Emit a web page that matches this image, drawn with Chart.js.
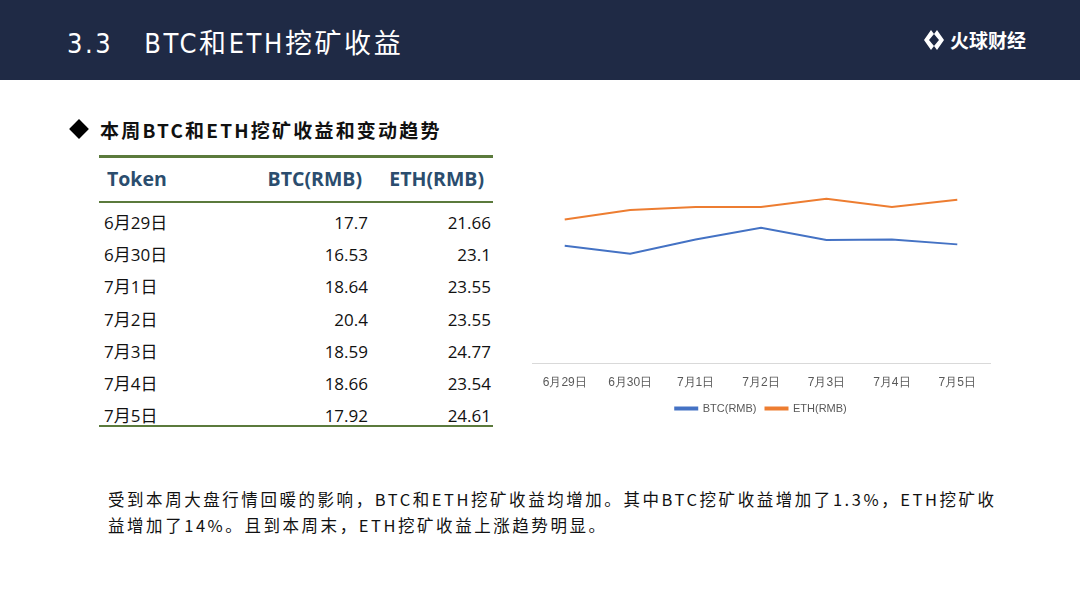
<!DOCTYPE html>
<html><head><meta charset="utf-8">
<script src="https://cdn.jsdelivr.net/npm/chart.js@4"></script>
<style>
html,body{margin:0;padding:0;background:#fff;}
body{width:1080px;height:608px;position:relative;overflow:hidden;font-family:"Noto Sans CJK SC","Noto Sans",sans-serif;}
#hdr{position:absolute;left:0;top:0;width:1080px;height:80px;background:#1f2a45;}
#title{position:absolute;left:67px;top:22px;color:#fff;font-size:27px;letter-spacing:2.6px;font-family:"DejaVu Sans Condensed","Noto Sans CJK SC",sans-serif;}
#logo{position:absolute;left:922px;top:26px;color:#fff;font-size:19px;font-weight:bold;display:flex;align-items:center;}
#sub{position:absolute;left:68px;top:116px;font-size:19px;font-weight:bold;color:#111;letter-spacing:2.2px;}
#sub span.d{display:inline-block;width:14px;height:14px;background:#000;transform:rotate(45deg);margin:0 14px 2px 4px;}
.line{position:absolute;left:99px;width:394px;background:#5b7a3c;}
.cell{position:absolute;font-size:17px;color:#111;font-family:"Open Sans","Noto Sans CJK SC",sans-serif;line-height:20px;}
.hd{font-weight:bold;color:#2b4d6e;font-size:19.5px;}
#body{position:absolute;left:108px;top:486px;font-size:16.5px;line-height:26px;color:#111;letter-spacing:2.55px;white-space:nowrap;}
#wrap{position:absolute;left:520px;top:150px;width:480px;height:278px;}
</style></head><body>
<div id="hdr"></div>
<div id="title">3.3&nbsp;&nbsp; BTC和ETH挖矿收益</div>
<div id="logo"><svg width="24" height="24" viewBox="0 0 24 24" style="margin-right:4px"><path d="M9 2 L2 12 L9 22 L12 18 L7 12 L12 6 Z" fill="#fff"/><path d="M15 2 L22 12 L15 22 L12 18 L17 12 L12 6 Z" fill="#fff"/></svg>火球财经</div>
<div id="sub"><span class="d"></span>本周BTC和ETH挖矿收益和变动趋势</div>
<div class="line" style="top:155px;height:3px"></div>
<div class="line" style="top:201px;height:2px"></div>
<div class="line" style="top:425px;height:2px"></div>
<div id="cells"></div>
<div id="body">受到本周大盘行情回暖的影响，BTC和ETH挖矿收益均增加。其中BTC挖矿收益增加了1.3%，ETH挖矿收<br>益增加了14%。且到本周末，ETH挖矿收益上涨趋势明显。</div>
<div id="wrap"><canvas id="c"></canvas></div>
<script>
const categories = ["6月29日","6月30日","7月1日","7月2日","7月3日","7月4日","7月5日"];
const btcValues = [17.7,16.53,18.64,20.4,18.59,18.66,17.92];
const ethValues = [21.66,23.1,23.55,23.55,24.77,23.54,24.61];
const btcLabels = ["17.7","16.53","18.64","20.4","18.59","18.66","17.92"];
const ethLabels = ["21.66","23.1","23.55","23.55","24.77","23.54","24.61"];

const cells = document.getElementById('cells');
function add(text, style, cls){const d=document.createElement('div');d.className='cell '+(cls||'');d.textContent=text;Object.assign(d.style,style);cells.appendChild(d);}
add("Token",{left:'107px',top:'169px'},'hd');
add("BTC(RMB)",{left:'222px',width:'140px',textAlign:'right',top:'169px'},'hd');
add("ETH(RMB)",{left:'344px',width:'140px',textAlign:'right',top:'169px'},'hd');
categories.forEach((c,i)=>{
  const top = (213 + i*32.2)+'px';
  add(c,{left:'104px',top:top});
  add(btcLabels[i],{left:'228px',width:'140px',textAlign:'right',top:top});
  add(ethLabels[i],{left:'351px',width:'140px',textAlign:'right',top:top});
});

new Chart(document.getElementById('c'),{
  type:'line',
  data:{labels:categories,datasets:[
    {label:'BTC(RMB)',data:btcValues,borderColor:'#4472c4',backgroundColor:'#4472c4',borderWidth:2,pointRadius:0,tension:0},
    {label:'ETH(RMB)',data:ethValues,borderColor:'#ed7d31',backgroundColor:'#ed7d31',borderWidth:2,pointRadius:0,tension:0}
  ]},
  options:{
    responsive:true,maintainAspectRatio:false,animation:false,
    layout:{padding:{left:12,right:10,top:14,bottom:4}},
    plugins:{tooltip:{enabled:false},legend:{position:'bottom',labels:{boxWidth:22,boxHeight:2,color:'#595959',font:{size:11},padding:9}}},
    scales:{
      y:{display:false,min:0,max:30},
      x:{offset:true,grid:{display:false},border:{color:'#d9d9d9'},ticks:{color:'#595959',font:{size:12},padding:4}}
    }
  }
});
</script>
</body></html>
